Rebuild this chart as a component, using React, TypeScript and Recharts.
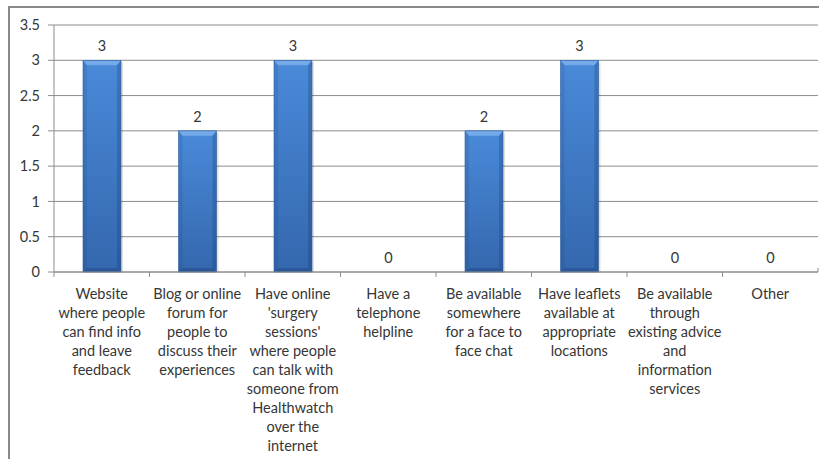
import React from "react";
import { BarChart, Bar, XAxis, YAxis, CartesianGrid, LabelList } from "recharts";

// Survey options (line breaks mark where each axis label wraps)
const categories: string[] = [
  "Website\nwhere people\ncan find info\nand leave\nfeedback",
  "Blog or online\nforum for\npeople to\ndiscuss their\nexperiences",
  "Have online\n'surgery\nsessions'\nwhere people\ncan talk with\nsomeone from\nHealthwatch\nover the\ninternet",
  "Have a\ntelephone\nhelpline",
  "Be available\nsomewhere\nfor a face to\nface chat",
  "Have leaflets\navailable at\nappropriate\nlocations",
  "Be available\nthrough\nexisting advice\nand\ninformation\nservices",
  "Other",
];

const responses: number[] = [3, 2, 3, 0, 2, 3, 0, 0];

const yTicks: number[] = [0, 0.5, 1, 1.5, 2, 2.5, 3, 3.5];

const data = categories.map((name, i) => ({ name, value: responses[i] }));

const CHART_W = 819;
const CHART_H = 459;
const MARGIN = { top: 25, right: 1, bottom: 0, left: 0 };
const Y_AXIS_W = 54;
const PLOT_W = CHART_W - MARGIN.left - MARGIN.right - Y_AXIS_W;
const BAND = PLOT_W / categories.length;

const FONT = "Lato, 'Open Sans', sans-serif";
const FONT_SIZE = 14.5;
const TEXT = "#363636";
const GRID = "#8c8c8c";

function CategoryTick(props: any) {
  const { x, y, payload, index } = props;
  const lines: string[] = String(payload.value).split("\n");
  const axisY = y - 8;
  const left = x - BAND / 2;
  return (
    <g>
      <line x1={left} y1={axisY} x2={left} y2={axisY + 5} stroke={GRID} strokeWidth={1} />
      {index === categories.length - 1 && (
        <line x1={left + BAND} y1={axisY} x2={left + BAND} y2={axisY - 4} stroke={GRID} strokeWidth={1} />
      )}
      <text x={x} y={axisY + 27} textAnchor="middle" fill={TEXT} fontSize={FONT_SIZE} fontFamily={FONT}>
        {lines.map((ln, i) => (
          <tspan key={i} x={x} dy={i === 0 ? 0 : 19}>
            {ln}
          </tspan>
        ))}
      </text>
    </g>
  );
}

function BevelBar(props: any) {
  const { x, y, width, height } = props;
  if (!height || height <= 0) return null;
  const b = 4;
  return (
    <g>
      <rect x={x + 2} y={y + 2} width={width} height={height - 2} fill="rgba(0,0,0,0.12)" />
      <rect x={x} y={y} width={width} height={height} fill="url(#barFill)" />
      <polygon
        points={`${x},${y} ${x + width},${y} ${x + width - b},${y + b + 1} ${x + b},${y + b + 1}`}
        fill="#74aaea"
      />
      <polygon
        points={`${x},${y} ${x + b},${y + b + 1} ${x + b},${y + height - b} ${x},${y + height}`}
        fill="rgba(20,50,100,0.12)"
      />
      <polygon
        points={`${x + width},${y} ${x + width - b},${y + b + 1} ${x + width - b},${y + height - b} ${x + width},${y + height}`}
        fill="rgba(20,50,100,0.25)"
      />
      <polygon
        points={`${x},${y + height} ${x + b},${y + height - b} ${x + width - b},${y + height - b} ${x + width},${y + height}`}
        fill="rgba(20,50,100,0.3)"
      />
      <rect x={x} y={y} width={width} height={height} fill="none" stroke="#2d5f9e" strokeWidth={0.6} />
    </g>
  );
}

export default function App() {
  return (
    <div
      style={{
        position: "fixed",
        left: 0,
        top: 0,
        width: CHART_W,
        height: CHART_H,
        overflow: "hidden",
        background: "#ffffff",
      }}
    >
      <div
        style={{
          position: "absolute",
          left: 8,
          top: 6,
          width: 900,
          height: 600,
          border: "2px solid #8a8a8a",
          boxSizing: "border-box",
        }}
      />
      <div style={{ position: "absolute", left: 0, top: 0 }}>
        <BarChart width={CHART_W} height={CHART_H} data={data} margin={MARGIN}>
          <defs>
            <linearGradient id="barFill" x1="0" y1="0" x2="0" y2="1">
              <stop offset="0%" stopColor="#4a8ad9" />
              <stop offset="100%" stopColor="#3467ae" />
            </linearGradient>
          </defs>
          <CartesianGrid vertical={false} stroke={GRID} strokeWidth={1} />
          <XAxis
            dataKey="name"
            interval={0}
            height={CHART_H - 272}
            axisLine={{ stroke: GRID }}
            tickLine={false}
            tick={<CategoryTick />}
          />
          <YAxis
            width={Y_AXIS_W}
            domain={[0, 3.5]}
            ticks={yTicks}
            interval={0}
            axisLine={{ stroke: GRID }}
            tickLine={{ stroke: GRID }}
            tickSize={6}
            tickMargin={8}
            tick={{ fill: TEXT, fontSize: FONT_SIZE, fontFamily: FONT }}
          />
          <Bar dataKey="value" barSize={38} shape={<BevelBar />} isAnimationActive={false}>
            <LabelList
              dataKey="value"
              position="top"
              offset={9}
              fill={TEXT}
              fontSize={FONT_SIZE}
              fontFamily={FONT}
            />
          </Bar>
        </BarChart>
      </div>
    </div>
  );
}
